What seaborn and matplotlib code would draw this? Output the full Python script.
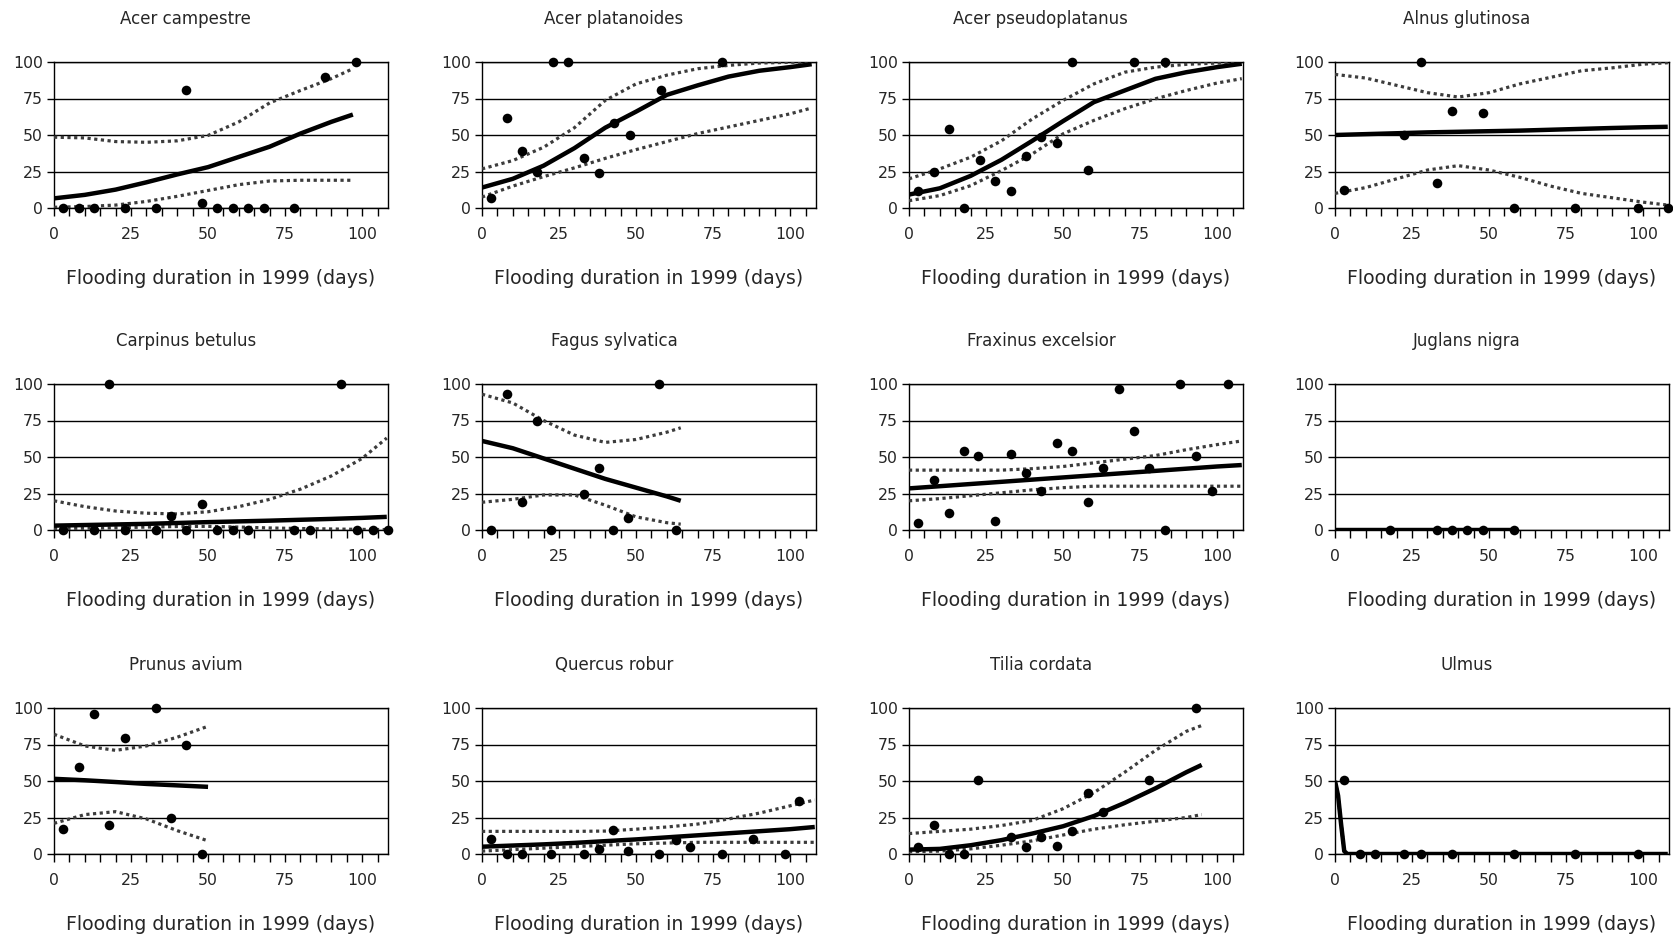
import matplotlib
matplotlib.use("Agg")
import matplotlib.pyplot as plt
from matplotlib.ticker import MultipleLocator, FixedLocator
import seaborn as sns

# ---- observed survival (%) against flooding duration (days) ----
species = ["Acer campestre", "Acer platanoides", "Acer pseudoplatanus", "Alnus glutinosa",
           "Carpinus betulus", "Fagus sylvatica", "Fraxinus excelsior", "Juglans nigra",
           "Prunus avium", "Quercus robur", "Tilia cordata", "Ulmus"]

acer_campestre_x = [3, 8, 13, 23, 33, 43, 48, 53, 58, 63, 68, 78, 88, 98]
acer_campestre_y = [0, 0, 0, 0, 0, 80.5, 3.4, 0, 0, 0, 0, 0, 89.7, 100]
acer_campestre_cx = [0, 10, 20, 30, 40, 50, 60, 70, 80, 90, 97]
acer_campestre_fit = [6.6, 9, 12.6, 17.6, 23, 28, 35, 42, 51, 59, 64]
acer_campestre_hi = [48.5, 48, 45.5, 45, 46, 49.7, 59, 72, 80.5, 88.6, 95.4]
acer_campestre_lo = [0.5, 1, 2, 4.5, 8, 12, 16, 18.5, 19, 19, 19]

acer_platanoides_x = [3, 8, 13, 18, 23, 28, 33, 38, 43, 48, 58, 78]
acer_platanoides_y = [6.6, 61.8, 38.9, 24.5, 100, 100, 34.3, 24, 58.4, 50.3, 80.5, 100]
acer_platanoides_cx = [0, 10, 20, 30, 40, 50, 60, 70, 80, 90, 100, 107]
acer_platanoides_fit = [14, 20, 29, 41, 55, 66, 77.5, 84, 90, 94, 96.5, 98.5]
acer_platanoides_hi = [26.8, 32.5, 41.6, 55, 73.7, 85, 91, 95.4, 97.7, 99.3, 99.8, 100]
acer_platanoides_lo = [7.5, 15, 21.5, 27.5, 34, 40, 45.5, 51, 55.5, 60, 64.5, 68.5]

acer_pseudoplatanus_x = [3, 8, 13, 18, 23, 28, 33, 38, 43, 48, 53, 58, 73, 83]
acer_pseudoplatanus_y = [11.5, 25, 53.8, 0, 33, 18.3, 11.4, 35.5, 48.5, 44.6, 100, 26.3, 100, 100]
acer_pseudoplatanus_cx = [0, 10, 20, 30, 40, 50, 60, 70, 80, 90, 100, 108]
acer_pseudoplatanus_fit = [9.2, 13.5, 22, 33, 46, 59.5, 72.5, 80.5, 88.5, 93, 96.5, 98.8]
acer_pseudoplatanus_hi = [20, 26.8, 34.8, 46, 61, 73.7, 85, 93, 96.5, 98.4, 99.3, 100]
acer_pseudoplatanus_lo = [5, 8.5, 15.3, 25.6, 37, 50.8, 60, 68, 74.8, 80.5, 85.6, 88.6]

alnus_glutinosa_x = [3, 22.5, 28, 33, 38, 48, 58, 78, 98.5, 108]
alnus_glutinosa_y = [12.6, 50.3, 100, 17, 66.4, 65.2, 0, 0, 0, 0]
alnus_glutinosa_cx = [0, 10, 20, 30, 40, 50, 60, 70, 80, 90, 100, 108]
alnus_glutinosa_fit = [50, 50.6, 51.2, 51.8, 52.2, 52.6, 53, 53.6, 54.2, 54.8, 55.3, 55.6]
alnus_glutinosa_hi = [91.5, 89, 84, 79, 76, 79, 85, 89.5, 94, 96, 98.5, 99.5]
alnus_glutinosa_lo = [10, 14, 20, 26, 29, 26, 21, 15, 10, 7, 4, 2]

carpinus_betulus_x = [3, 13, 18, 23, 33, 38, 43, 48, 53, 58, 63, 78, 83, 93, 98.5, 103.5, 108.5]
carpinus_betulus_y = [0, 0, 100, 0, 0, 9.8, 0, 17.5, 0, 0, 0, 0, 0, 100, 0, 0, 0]
carpinus_betulus_cx = [0, 10, 20, 30, 40, 50, 60, 70, 80, 90, 100, 108]
carpinus_betulus_fit = [3, 3.4, 3.8, 4.2, 4.8, 5.4, 5.9, 6.4, 7, 7.6, 8.3, 9]
carpinus_betulus_hi = [20, 16, 13, 11.5, 11, 12.5, 16, 21, 28, 37, 49, 63]
carpinus_betulus_lo = [1, 1.2, 1.5, 2, 2.4, 2.5, 2, 1.4, 1, 0.7, 0.4, 0.3]

fagus_sylvatica_x = [3, 8, 13, 18, 22.5, 33, 38, 42.5, 47.5, 57.5, 63]
fagus_sylvatica_y = [0, 93.4, 19.3, 74.5, 0, 24.5, 42.3, 0, 8, 100, 0]
fagus_sylvatica_cx = [0, 10, 20, 30, 40, 50, 60, 64.5]
fagus_sylvatica_fit = [61, 56, 49, 42, 35, 29, 23, 20]
fagus_sylvatica_hi = [93, 87, 75, 65, 60, 62, 67, 70]
fagus_sylvatica_lo = [19, 21, 24, 24, 17, 9, 5, 4]

fraxinus_excelsior_x = [3, 8, 13, 18, 22.5, 28, 33, 38, 43, 48, 53, 58, 63, 68, 73, 78, 83, 88, 93, 98.5, 103.5]
fraxinus_excelsior_y = [4.8, 34.3, 11.6, 54, 50.7, 5.9, 51.8, 39.3, 26.4, 59.8, 54, 19.5, 42.7, 96.6,
                        67.7, 42.7, 0, 100, 50.7, 26.4, 100]
fraxinus_excelsior_cx = [0, 10, 20, 30, 40, 50, 60, 70, 80, 90, 100, 108]
fraxinus_excelsior_fit = [28.5, 30, 31.5, 33, 34.5, 36, 37.5, 39, 40.5, 42, 43.5, 44.5]
fraxinus_excelsior_hi = [41, 41, 41, 41, 42, 43.5, 46, 48.5, 51, 55, 58.5, 61]
fraxinus_excelsior_lo = [20, 21.5, 23.5, 25.5, 27.5, 29, 30, 30, 30, 30, 30, 30]

juglans_nigra_x = [18, 33, 38, 43, 48, 58]
juglans_nigra_y = [0, 0, 0, 0, 0, 0]
juglans_nigra_cx = [0, 58]
juglans_nigra_fit = [0, 0]
juglans_nigra_hi = [0, 0]
juglans_nigra_lo = [0, 0]

prunus_avium_x = [3, 8, 13, 18, 23, 33, 38, 43, 48]
prunus_avium_y = [17, 59.7, 95.7, 19.8, 79.5, 100, 25, 75, 0]
prunus_avium_cx = [0, 10, 20, 30, 40, 50]
prunus_avium_fit = [51.5, 50.5, 49.3, 48, 47, 46]
prunus_avium_hi = [82, 74, 71, 74, 80, 87.5]
prunus_avium_lo = [21, 27, 29, 24, 16, 9]

quercus_robur_x = [3, 8, 13, 22.5, 33, 38, 42.5, 47.5, 57.5, 63, 67.5, 78, 88, 98.5, 103]
quercus_robur_y = [10.3, 0, 0, 0, 0, 3.4, 16.4, 2.3, 0, 9.6, 4.6, 0, 10.3, 0, 36.4]
quercus_robur_cx = [0, 10, 20, 30, 40, 50, 60, 70, 80, 90, 100, 108]
quercus_robur_fit = [5, 5.8, 6.6, 7.6, 8.8, 10, 11.4, 12.8, 14.2, 15.6, 17, 18.5]
quercus_robur_hi = [15.5, 15.5, 15.5, 15.5, 15.7, 17, 18.5, 20.5, 24, 28, 33, 37]
quercus_robur_lo = [2, 3, 4, 5, 6, 7, 7.5, 8, 8, 8, 8, 8]

tilia_cordata_x = [3, 8, 13, 18, 22.5, 33, 38, 43, 48, 53, 58, 63, 78, 93]
tilia_cordata_y = [5, 19.8, 0, 0, 50.6, 11.4, 4.6, 11.8, 5.7, 16, 41.5, 28.5, 50.6, 100]
tilia_cordata_cx = [0, 10, 20, 30, 40, 50, 60, 70, 80, 90, 95]
tilia_cordata_fit = [3, 3.5, 6, 9.5, 14, 19, 26, 35, 45, 56, 61]
tilia_cordata_hi = [14, 15.5, 17, 19.5, 23, 31, 42, 56, 71, 84, 88]
tilia_cordata_lo = [1.5, 2, 3.5, 6, 9, 13, 17, 20, 22.5, 25, 27]

ulmus_x = [3, 8, 13, 22.5, 28, 38, 58, 78, 98.5]
ulmus_y = [50.6, 0, 0, 0, 0, 0, 0, 0, 0]
ulmus_cx = [0, 1, 2, 3, 4, 20, 60, 108]
ulmus_fit = [50, 40, 20, 2, 0, 0, 0, 0]
ulmus_hi = [50, 40, 20, 2, 0, 0, 0, 0]
ulmus_lo = [50, 40, 20, 2, 0, 0, 0, 0]

panels = [
    (acer_campestre_x, acer_campestre_y, acer_campestre_cx, acer_campestre_fit, acer_campestre_hi, acer_campestre_lo),
    (acer_platanoides_x, acer_platanoides_y, acer_platanoides_cx, acer_platanoides_fit, acer_platanoides_hi, acer_platanoides_lo),
    (acer_pseudoplatanus_x, acer_pseudoplatanus_y, acer_pseudoplatanus_cx, acer_pseudoplatanus_fit, acer_pseudoplatanus_hi, acer_pseudoplatanus_lo),
    (alnus_glutinosa_x, alnus_glutinosa_y, alnus_glutinosa_cx, alnus_glutinosa_fit, alnus_glutinosa_hi, alnus_glutinosa_lo),
    (carpinus_betulus_x, carpinus_betulus_y, carpinus_betulus_cx, carpinus_betulus_fit, carpinus_betulus_hi, carpinus_betulus_lo),
    (fagus_sylvatica_x, fagus_sylvatica_y, fagus_sylvatica_cx, fagus_sylvatica_fit, fagus_sylvatica_hi, fagus_sylvatica_lo),
    (fraxinus_excelsior_x, fraxinus_excelsior_y, fraxinus_excelsior_cx, fraxinus_excelsior_fit, fraxinus_excelsior_hi, fraxinus_excelsior_lo),
    (juglans_nigra_x, juglans_nigra_y, juglans_nigra_cx, juglans_nigra_fit, juglans_nigra_hi, juglans_nigra_lo),
    (prunus_avium_x, prunus_avium_y, prunus_avium_cx, prunus_avium_fit, prunus_avium_hi, prunus_avium_lo),
    (quercus_robur_x, quercus_robur_y, quercus_robur_cx, quercus_robur_fit, quercus_robur_hi, quercus_robur_lo),
    (tilia_cordata_x, tilia_cordata_y, tilia_cordata_cx, tilia_cordata_fit, tilia_cordata_hi, tilia_cordata_lo),
    (ulmus_x, ulmus_y, ulmus_cx, ulmus_fit, ulmus_hi, ulmus_lo),
]

x_label = "Flooding duration in 1999 (days)"
x_ticks = [0, 25, 50, 75, 100]
y_ticks = [0, 25, 50, 75, 100]

sns.set_style("white")
plt.rcParams["font.family"] = ["DejaVu Sans"]

W, H = 1673, 936
fig = plt.figure(figsize=(W / 100, H / 100), dpi=100)
fig.patch.set_facecolor("white")

col_left = [54, 482, 909, 1335]
row_top = [62, 384, 708]
ax_w, ax_h = 334, 146

for i, (name, (px, py, cx, fit, hi, lo)) in enumerate(zip(species, panels)):
    r, c = divmod(i, 4)
    ax = fig.add_axes([col_left[c] / W, 1 - (row_top[r] + ax_h) / H, ax_w / W, ax_h / H])

    # confidence band edges (dotted) and fitted curve (thick)
    sns.lineplot(x=cx, y=hi, ax=ax, color="#3c3c3c", lw=2.3, linestyle=(0, (1, 1.1)),
                 sort=False, estimator=None, zorder=3)
    sns.lineplot(x=cx, y=lo, ax=ax, color="#3c3c3c", lw=2.3, linestyle=(0, (1, 1.1)),
                 sort=False, estimator=None, zorder=3)
    sns.lineplot(x=cx, y=fit, ax=ax, color="black", lw=3.2, sort=False,
                 estimator=None, zorder=4, solid_capstyle="butt")
    sns.scatterplot(x=px, y=py, ax=ax, color="black", s=48, edgecolor="black",
                    linewidth=0, zorder=5, clip_on=False)

    ax.set_xlim(0, 108.4)
    ax.set_ylim(0, 100)
    ax.xaxis.set_major_locator(FixedLocator(x_ticks))
    ax.xaxis.set_minor_locator(MultipleLocator(5))
    ax.set_yticks(y_ticks)
    ax.set_yticklabels([str(v) for v in y_ticks])
    ax.set_xticklabels([str(v) for v in x_ticks])
    ax.grid(axis="y", color="black", lw=1.0, zorder=1)
    ax.set_axisbelow(True)
    for sp in ax.spines.values():
        sp.set_color("black")
        sp.set_linewidth(1.0)
        sp.set_visible(True)
    ax.tick_params(axis="x", which="both", direction="out", length=6, width=1,
                   color="black", labelsize=11.3, pad=8, bottom=True)
    ax.tick_params(axis="y", which="major", direction="out", length=5, width=1,
                   color="black", labelsize=11.3, pad=3, left=True)
    ax.set_xlabel("")
    ax.set_ylabel("")
    ax.text(0.395, 1 + 43 / ax_h, name, transform=ax.transAxes, ha="center",
            va="center", fontsize=12)
    ax.text(0.5, -70 / ax_h, x_label, transform=ax.transAxes, ha="center",
            va="center", fontsize=13.6)

fig.savefig("out.png", dpi=100, facecolor="white")
